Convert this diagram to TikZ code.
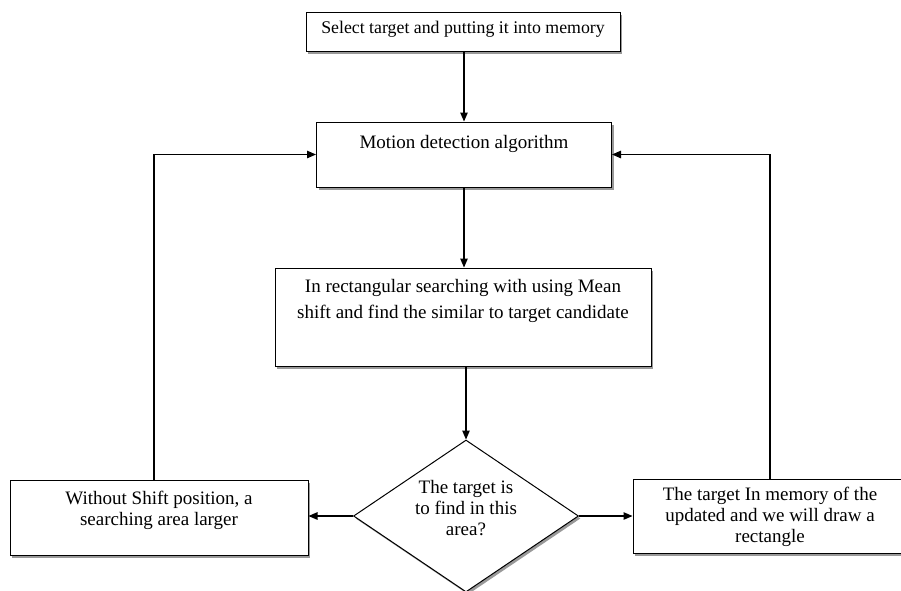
\documentclass[tikz,border=0pt]{standalone}
\usepackage{fontspec}
\setmainfont{Liberation Serif}
\usetikzlibrary{arrows.meta,shapes.geometric,shadows}
\begin{document}
\begin{tikzpicture}[x=1pt,y=-1pt,
  box/.style={draw,line width=1pt,fill=white,inner sep=0pt,
    drop shadow={shadow xshift=2pt,shadow yshift=-2.5pt,fill=black!40,opacity=1}},
  txt/.style={align=center,inner sep=0pt,font=\fontsize{19}{21}\selectfont},
  arr/.style={line width=1.1pt,-{Triangle[length=9pt,width=7.5pt]}}]
\clip (0,0) rectangle (901,590);
\fill[white] (0,0) rectangle (901,590);
% boxes
\node[box,minimum width=314pt,minimum height=39pt] (sel) at (463,31.5) {};
\node[txt,font=\fontsize{17.8}{21}\selectfont] (selT) at (463,29) {Select target and putting it into memory};
\node[box,minimum width=295pt,minimum height=65pt] (mot) at (464,154.5) {};
\node[txt] (motT) at (464,144) {Motion detection algorithm};
\node[box,minimum width=376pt,minimum height=98pt] (rect) at (463,317) {};
\node[txt,font=\fontsize{19}{26.5}\selectfont] (rectT) at (463,301) {In rectangular searching with using Mean\\shift and find the similar to target candidate};
\node[box,diamond,minimum width=225pt,minimum height=152pt] (dia) at (466,516) {};
\node[txt] (diaT) at (466,508) {The target is\\to find in this\\area?};
\node[box,minimum width=298pt,minimum height=75pt] (left) at (159,517.5) {};
\node[txt] (leftT) at (159,510.5) {Without Shift position, a\\searching area larger};
\node[box,minimum width=274pt,minimum height=74pt] (right) at (770,516) {};
\node[txt] (rightT) at (770,517) {The target In memory of the\\updated and we will draw a\\rectangle};
% connectors
\draw[arr] (sel.south -| mot.north) -- (mot.north);
\draw[arr] (mot.south) -- (rect.north -| mot.south);
\draw[arr] (rect.south -| dia.north) -- (dia.north);
\draw[arr] (dia.west) -- (dia.west -| left.east);
\draw[arr] (dia.east) -- (dia.east -| right.west);
\draw[arr] ([xshift=-5pt]left.north) |- (mot.west);
\draw[arr] (right.north) |- (mot.east);
\end{tikzpicture}
\end{document}
